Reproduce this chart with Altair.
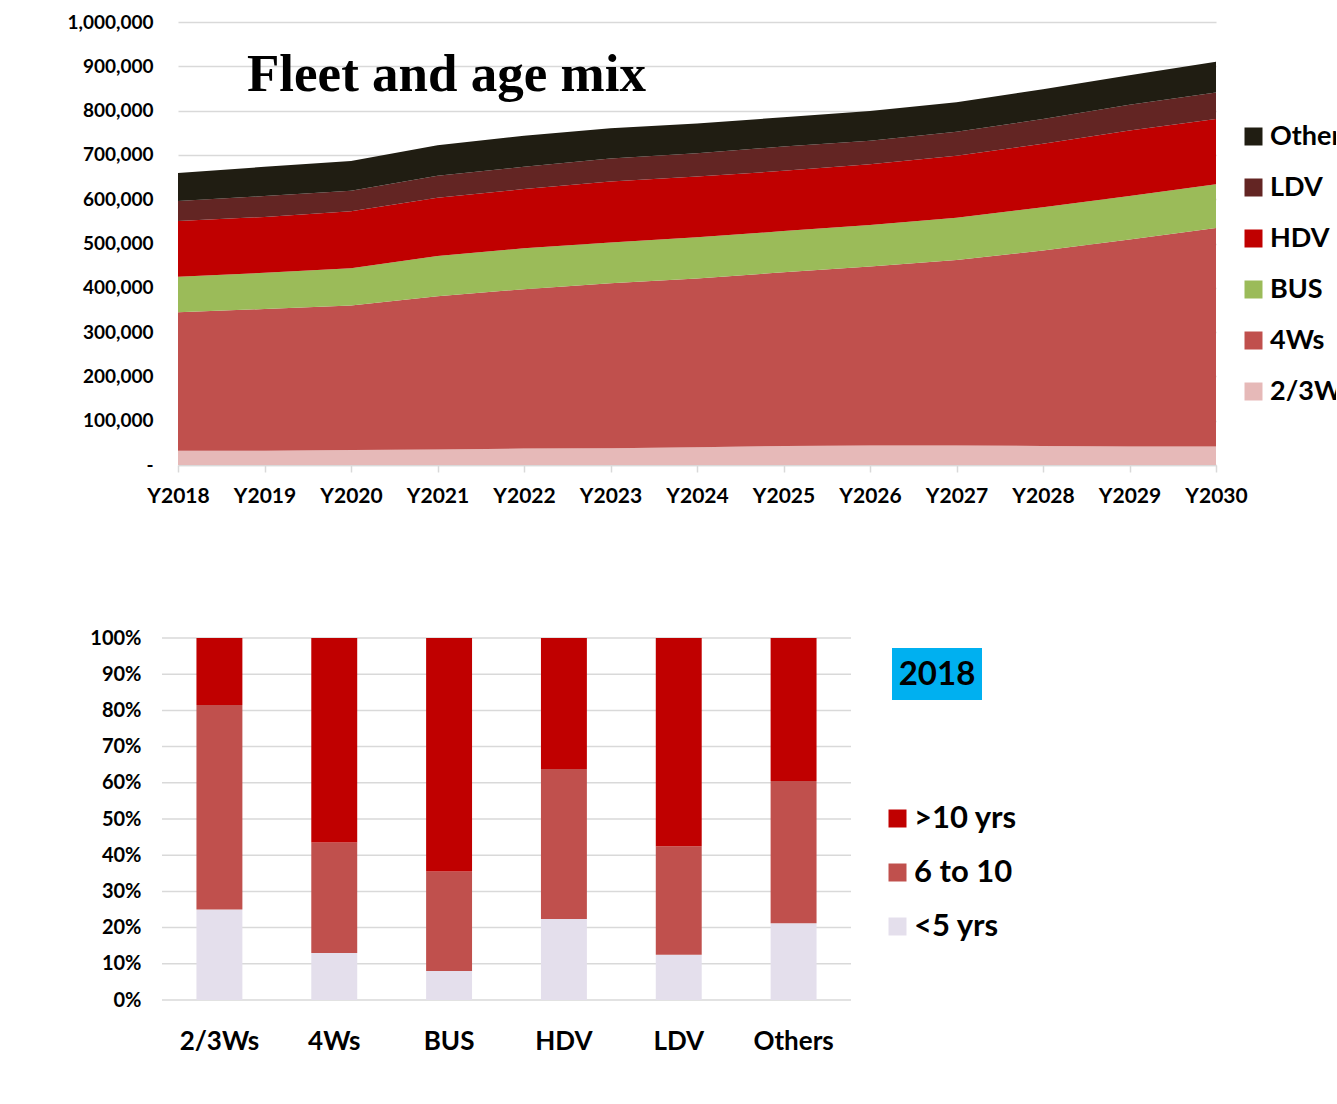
import altair as alt
import pandas as pd

# ---------------- data: top chart (fleet, vehicles) ----------------
years = [2018, 2019, 2020, 2021, 2022, 2023, 2024, 2025, 2026, 2027, 2028, 2029, 2030]
two_three_w = [32000, 32000, 34000, 35000, 37000, 38000, 40000, 43000, 44000, 44000, 43000, 42000, 42000]
four_w = [313000, 320000, 326000, 346000, 360000, 372000, 381000, 392000, 404000, 419000, 441000, 467000, 493000]
bus = [80000, 82000, 84000, 91000, 92000, 92000, 93000, 93000, 94000, 95000, 98000, 98000, 99000]
hdv = [126000, 126000, 129000, 131000, 134000, 138000, 137000, 136000, 137000, 140000, 143000, 148000, 147000]
ldv = [45000, 47000, 46000, 50000, 50000, 52000, 53000, 55000, 53000, 54000, 56000, 58000, 60000]
others = [63000, 66000, 67000, 69000, 70000, 68000, 67000, 66000, 67000, 67000, 67000, 67000, 69000]

fleet_series = ["2/3Ws", "4Ws", "BUS", "HDV", "LDV", "Others"]          # stacking order (bottom -> top)
fleet_colors = ["#E6B9B8", "#C0504D", "#9BBB59", "#C00000", "#632523", "#201D12"]
fleet_legend_order = ["Others", "LDV", "HDV", "BUS", "4Ws", "2/3Ws"]
y_ticks_fleet = [0, 100000, 200000, 300000, 400000, 500000, 600000, 700000, 800000, 900000, 1000000]
title_text = "Fleet and age mix"

# ---------------- data: bottom chart (age mix 2018, %) ----------------
age_categories = ["2/3Ws", "4Ws", "BUS", "HDV", "LDV", "Others"]
under5 = [25.0, 13.0, 8.0, 22.4, 12.5, 21.2]
six_to_ten = [56.5, 30.5, 27.5, 41.4, 30.0, 39.3]
over10 = [18.5, 56.5, 64.5, 36.2, 57.5, 39.5]
age_groups = ["<5 yrs", "6 to 10", ">10 yrs"]                       # stacking order (bottom -> top)
age_colors = ["#E4DFEC", "#C0504D", "#C00000"]
age_legend_order = [">10 yrs", "6 to 10", "<5 yrs"]
pct_ticks = [0, 0.1, 0.2, 0.3, 0.4, 0.5, 0.6, 0.7, 0.8, 0.9, 1.0]
year_badge = "2018"

# ---------------- tables ----------------
fleet_vals = [two_three_w, four_w, bus, hdv, ldv, others]
rows = []
for i, name in enumerate(fleet_series):
    for y, v in zip(years, fleet_vals[i]):
        rows.append({"year": y, "series": name, "value": v, "idx": i})
fleet_df = pd.DataFrame(rows)

age_vals = [under5, six_to_ten, over10]
rows = []
for i, g in enumerate(age_groups):
    for c, v in zip(age_categories, age_vals[i]):
        rows.append({"cat": c, "age": g, "pct": v, "ord": i})
age_df = pd.DataFrame(rows)

FONT = "Lato"
GRID = "#D9D9D9"

# ---------------- top chart ----------------
fleet_color_map = dict(zip(fleet_series, fleet_colors))
area = alt.Chart(fleet_df).mark_area(opacity=1, interpolate="linear").encode(
    x=alt.X("year:Q",
            scale=alt.Scale(domain=[years[0], years[-1]], nice=False, zero=False),
            axis=alt.Axis(values=years, labelExpr="'Y' + datum.value", grid=False,
                          domainColor=GRID, domainWidth=1.5, tickColor=GRID, tickSize=7,
                          tickWidth=1.5, labelFont=FONT, labelFontSize=21, labelFontWeight="bold",
                          labelColor="black", labelPadding=13, title=None, labelFlush=False,
                          labelOverlap=False)),
    y=alt.Y("value:Q", stack="zero",
            scale=alt.Scale(domain=[0, 1000000], nice=False),
            axis=alt.Axis(values=y_ticks_fleet,
                          labelExpr="datum.value == 0 ? '-\u00a0\u00a0' : format(datum.value, ',')",
                          gridColor=GRID, gridWidth=1.5, domain=False, ticks=False,
                          labelPadding=25, labelFont=FONT, labelFontSize=19,
                          labelFontWeight="bold", labelColor="black", title=None)),
    color=alt.Color("series:N",
                    scale=alt.Scale(domain=fleet_legend_order,
                                    range=[fleet_color_map[s] for s in fleet_legend_order]),
                    legend=alt.Legend(orient="none", legendX=1062, legendY=101, title=None,
                                      symbolType="square", symbolSize=324, symbolStrokeWidth=0,
                                      labelFont=FONT, labelFontSize=27, labelFontWeight="bold",
                                      labelColor="black", labelOffset=3, rowPadding=23,
                                      labelLimit=600, padding=0)),
    order=alt.Order("idx:Q", sort="ascending"),
)

title_mark = alt.Chart(pd.DataFrame({"t": [title_text]})).mark_text(
    font="Liberation Serif", fontSize=53, fontWeight="bold", align="left",
    baseline="alphabetic", color="black"
).encode(text="t:N", x=alt.value(69), y=alt.value(69))

top = alt.layer(area, title_mark).properties(width=1038, height=443)

# ---------------- bottom chart ----------------
age_color_map = dict(zip(age_groups, age_colors))
pct_axis = alt.Axis(values=pct_ticks, format=".0%", grid=False, domain=False, ticks=False,
                    labelPadding=37, labelFont=FONT, labelFontSize=20, labelFontWeight="bold",
                    labelColor="black", title=None)

grid_rules = alt.Chart(pd.DataFrame({"v": pct_ticks})).mark_rule(
    color=GRID, strokeWidth=1.5
).encode(y=alt.Y("v:Q", scale=alt.Scale(domain=[0, 1], nice=False), axis=pct_axis),
         x=alt.value(-16), x2=alt.value(673))

bars = alt.Chart(age_df).mark_bar().encode(
    x=alt.X("cat:N", sort=age_categories,
            scale=alt.Scale(range=[-16, 673], paddingInner=0.6, paddingOuter=0.3),
            axis=alt.Axis(domain=False, ticks=False, labelAngle=0, labelFont=FONT,
                          labelFontSize=26, labelFontWeight="bold", labelColor="black",
                          labelPadding=28, title=None)),
    y=alt.Y("pct:Q", stack="normalize", scale=alt.Scale(domain=[0, 1], nice=False), axis=pct_axis),
    color=alt.Color("age:N",
                    scale=alt.Scale(domain=age_legend_order,
                                    range=[age_color_map[a] for a in age_legend_order]),
                    legend=alt.Legend(orient="none", legendX=704, legendY=165, title=None,
                                      symbolType="square", symbolSize=324, symbolStrokeWidth=0,
                                      labelFont=FONT, labelFontSize=31, labelFontWeight="bold",
                                      labelColor="black", labelOffset=1, rowPadding=22,
                                      labelLimit=600, padding=0)),
    order=alt.Order("ord:Q", sort="ascending"),
)

badge_df = pd.DataFrame({"label": [year_badge]})
badge_box = alt.Chart(badge_df).mark_rect(color="#00B0F0").encode(
    x=alt.value(714), x2=alt.value(804), y=alt.value(10), y2=alt.value(62))
badge_text = alt.Chart(badge_df).mark_text(
    font=FONT, fontSize=33, fontWeight="bold", color="black", align="center", baseline="middle"
).encode(text="label:N", x=alt.value(759), y=alt.value(37))

bottom = alt.layer(grid_rules, bars, badge_box, badge_text).properties(width=673, height=362)

chart = alt.vconcat(top, bottom, spacing=122).resolve_scale(color="independent").properties(
    padding={"left": 66, "top": 13, "right": -18, "bottom": 0},
    background="white",
).configure_view(stroke=None)

chart.save("out.html", embed_options={"renderer": "svg", "actions": False})
